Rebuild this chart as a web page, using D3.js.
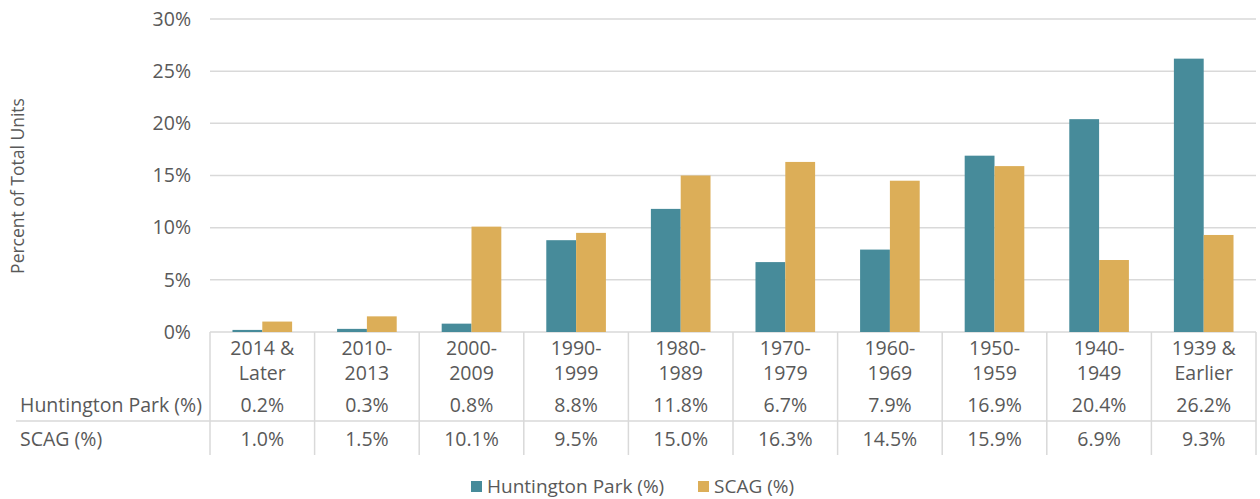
<!DOCTYPE html>
<html>
<head>
<meta charset="utf-8">
<script src="https://cdn.jsdelivr.net/npm/d3@7"></script>
<style>
  body { margin: 0; background: #fff; }
  text { font-family: "Open Sans", sans-serif; fill: #595959; }
</style>
</head>
<body>
<div id="chart"></div>
<script>
let categories = [["2014 &", "Later"], ["2010-", "2013"], ["2000-", "2009"], ["1990-", "1999"], ["1980-", "1989"],
                  ["1970-", "1979"], ["1960-", "1969"], ["1950-", "1959"], ["1940-", "1949"], ["1939 &", "Earlier"]];
let huntington = [0.2, 0.3, 0.8, 8.8, 11.8, 6.7, 7.9, 16.9, 20.4, 26.2];
let scag = [1.0, 1.5, 10.1, 9.5, 15.0, 16.3, 14.5, 15.9, 6.9, 9.3];
let seriesNames = ["Huntington Park (%)", "SCAG (%)"];
let yTicks = [0, 5, 10, 15, 20, 25, 30];

let svgWidth = 1260;
let svgHeight = 499;
let margin = { top: 19, right: 4, bottom: 167, left: 210 };
let width = svgWidth - margin.left - margin.right;
let height = svgHeight - margin.top - margin.bottom;
let colors = ["#478B9A", "#DCAE58"];
let fs = "19.5px";

let svg = d3.select("#chart").append("svg")
  .attr("width", svgWidth)
  .attr("height", svgHeight);

let chartGroup = svg.append("g")
  .attr("transform", `translate(${margin.left}, ${margin.top})`);

let x0 = d3.scaleBand()
  .domain(d3.range(categories.length))
  .range([0, width]);

let x1 = d3.scaleBand()
  .domain([0, 1])
  .range([x0.bandwidth() * 0.215, x0.bandwidth() * 0.785]);

let y = d3.scaleLinear()
  .domain([0, 30])
  .range([height, 0]);

// gridlines
chartGroup.selectAll(".grid")
  .data(yTicks)
  .enter()
  .append("line")
  .attr("x1", 0)
  .attr("x2", width)
  .attr("y1", d => y(d))
  .attr("y2", d => y(d))
  .attr("stroke", "#d9d9d9")
  .attr("stroke-width", 1.5);

// y tick labels
chartGroup.selectAll(".ytick")
  .data(yTicks)
  .enter()
  .append("text")
  .attr("x", -19)
  .attr("y", d => y(d))
  .attr("dy", "0.35em")
  .attr("text-anchor", "end")
  .attr("font-size", fs)
  .text(d => d + "%");

// bars
let groups = chartGroup.selectAll(".cat")
  .data(categories.map((c, i) => [huntington[i], scag[i]]))
  .enter()
  .append("g")
  .attr("transform", (d, i) => `translate(${x0(i)}, 0)`);

groups.selectAll("rect")
  .data(d => d)
  .enter()
  .append("rect")
  .attr("x", (d, j) => x1(j))
  .attr("width", x1.bandwidth())
  .attr("y", d => y(d))
  .attr("height", d => height - y(d))
  .attr("fill", (d, j) => colors[j]);

// data table
let tableTop = height;
let rowY = [tableTop + 80, tableTop + 114];
let tableBottom = tableTop + 123;

// vertical separators
chartGroup.selectAll(".vsep")
  .data(d3.range(categories.length + 1))
  .enter()
  .append("line")
  .attr("x1", d => d < categories.length ? x0(d) : width)
  .attr("x2", d => d < categories.length ? x0(d) : width)
  .attr("y1", tableTop)
  .attr("y2", tableBottom)
  .attr("stroke", "#d9d9d9")
  .attr("stroke-width", 1.5);

// row separator
chartGroup.append("line")
  .attr("x1", -194)
  .attr("x2", width)
  .attr("y1", tableTop + 89)
  .attr("y2", tableTop + 89)
  .attr("stroke", "#d9d9d9")
  .attr("stroke-width", 1.5);

// category labels
let catLabels = chartGroup.selectAll(".catlabel")
  .data(categories)
  .enter()
  .append("text")
  .attr("text-anchor", "middle")
  .attr("font-size", fs)
  .attr("transform", (d, i) => `translate(${x0(i) + x0.bandwidth() / 2}, ${tableTop + 23})`);

catLabels.append("tspan").attr("x", 0).attr("y", 0).text(d => d[0]);
catLabels.append("tspan").attr("x", 0).attr("y", 25).text(d => d[1]);

// row labels and values
[huntington, scag].forEach((vals, r) => {
  chartGroup.append("text")
    .attr("x", -190)
    .attr("y", rowY[r])
    .attr("font-size", fs)
    .text(seriesNames[r]);

  chartGroup.selectAll(".val" + r)
    .data(vals)
    .enter()
    .append("text")
    .attr("x", (d, i) => x0(i) + x0.bandwidth() / 2)
    .attr("y", rowY[r])
    .attr("text-anchor", "middle")
    .attr("font-size", fs)
    .text(d => d.toFixed(1) + "%");
});

// y axis title
svg.append("text")
  .attr("transform", "translate(24, 186) rotate(-90)")
  .attr("text-anchor", "middle")
  .attr("font-size", "17.5px")
  .text("Percent of Total Units");

// legend
let legend = svg.append("g").attr("transform", "translate(471, 481)");
let legendX = [0, 227];
seriesNames.forEach((name, i) => {
  legend.append("rect")
    .attr("x", legendX[i])
    .attr("y", 0)
    .attr("width", 11)
    .attr("height", 11)
    .attr("fill", colors[i]);
  legend.append("text")
    .attr("x", legendX[i] + 16)
    .attr("y", 11)
    .attr("dy", "0.05em")
    .attr("font-size", "19px")
    .text(name);
});
</script>
</body>
</html>
